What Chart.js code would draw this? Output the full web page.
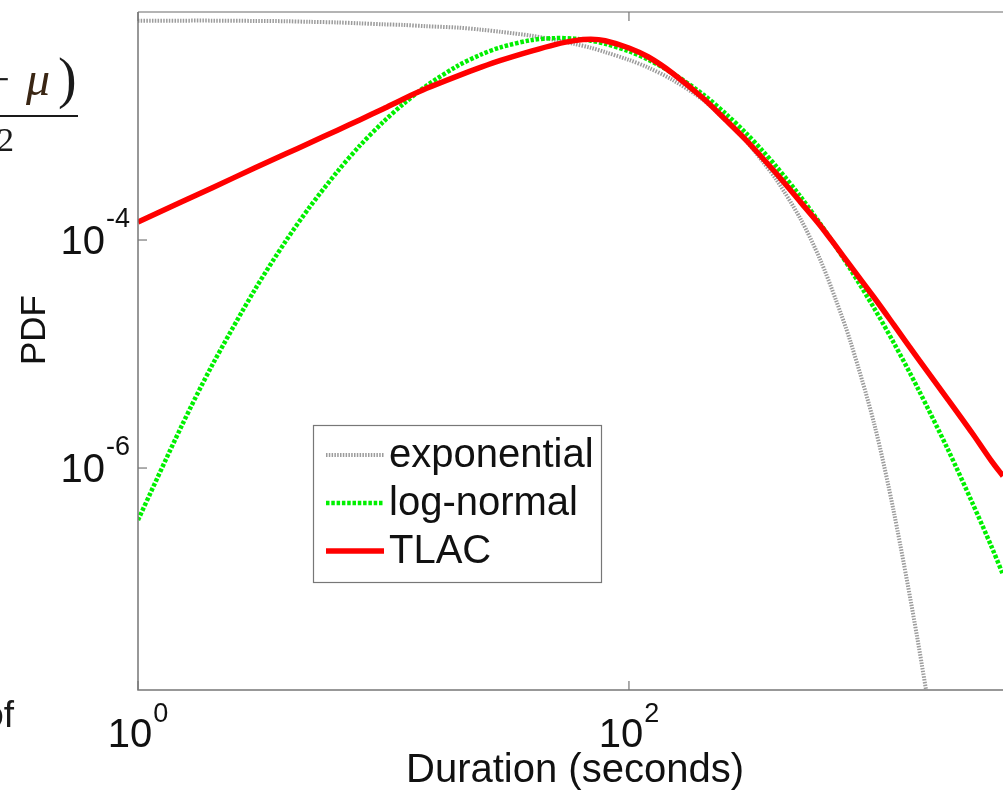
<!DOCTYPE html>
<html>
<head>
<meta charset="utf-8">
<script src="https://cdn.jsdelivr.net/npm/chart.js@4"></script>
<style>
    html, body { margin: 0; padding: 0; background: #fff; overflow: hidden; }
    #wrap { position: relative; width: 1003px; height: 793px; }
</style>
</head>
<body>
<div id="wrap"><canvas id="pdfChart" width="1003" height="793"></canvas></div>
<script>
const durations = [1, 1.5, 2, 3, 4, 5, 6.5, 8, 10, 12,
    15, 20, 25, 30, 40, 50, 60, 70, 80, 100,
    120, 150, 200, 250, 300, 350, 400, 500, 600, 700,
    800, 1000, 1200, 1500, 2000, 2500, 3000, 3340];

const expPdf = [8.4e-3, 8.4e-3, 8.4e-3, 8.35e-3, 8.3e-3, 8.2e-3, 8.1e-3, 7.95e-3, 7.8e-3, 7.7e-3,
    7.5e-3, 7.3e-3, 7.0e-3, 6.7e-3, 6.2e-3, 5.7e-3, 5.25e-3, 4.85e-3, 4.45e-3, 3.8e-3,
    3.25e-3, 2.55e-3, 1.7e-3, 1.1e-3, 7.4e-4, 4.9e-4, 3.35e-4, 1.53e-4, 6.8e-5, 2.9e-5,
    1.27e-5, 2.4e-6, 4.1e-7, 3.1e-8, 7e-10, null, null, null];

const logNormalPdf = [3.5e-7, 2.3e-6, 7.9e-6, 3.7e-5, 9.8e-5, 1.94e-4, 4.0e-4, 6.7e-4, 1.09e-3, 1.55e-3,
    2.26e-3, 3.36e-3, 4.24e-3, 4.9e-3, 5.67e-3, 5.9e-3, 5.84e-3, 5.6e-3, 5.26e-3, 4.52e-3,
    3.81e-3, 2.92e-3, 1.9e-3, 1.26e-3, 8.65e-4, 6.08e-4, 4.37e-4, 2.4e-4, 1.4e-4, 8.6e-5,
    5.5e-5, 2.5e-5, 1.25e-5, 5.04e-6, 1.43e-6, 5.0e-7, 2.04e-7, 1.16e-7];

const tlacPdf = [1.44e-4, 2.15e-4, 2.86e-4, 4.3e-4, 5.7e-4, 7.1e-4, 9.2e-4, 1.13e-3, 1.42e-3, 1.72e-3,
    2.14e-3, 2.74e-3, 3.28e-3, 3.76e-3, 4.54e-3, 5.18e-3, 5.61e-3, 5.76e-3, 5.6e-3, 4.83e-3,
    4.03e-3, 2.92e-3, 1.76e-3, 1.11e-3, 7.53e-4, 5.24e-4, 3.79e-4, 2.15e-4, 1.35e-4, 8.7e-5,
    5.9e-5, 3.1e-5, 1.8e-5, 9.2e-6, 3.95e-6, 2.03e-6, 1.15e-6, 8.5e-7];

const seriesLabels = ['exponential', 'log-normal', 'TLAC'];

// tick values and their exponents (labels drawn as 10^n)
const xTicks = [1, 100];
const xTickExp = ['0', '2'];
const yTicks = [1e-4, 1e-6];
const yTickExp = ['-4', '-6'];

const FONT = '"Liberation Sans", Arial, sans-serif';

const toPoints = (vals) => durations.map((d, i) => ({ x: d, y: vals[i] }));

function drawPow(ctx, left, baseline, expBaseline, exp) {
    ctx.font = `40px ${FONT}`;
    ctx.fillText('10', left, baseline);
    const w = ctx.measureText('10').width;
    ctx.font = `27px ${FONT}`;
    ctx.fillText(exp, left + w + 1, expBaseline);
}

function powWidth(ctx, exp) {
    ctx.font = `40px ${FONT}`;
    const w1 = ctx.measureText('10').width;
    ctx.font = `27px ${FONT}`;
    return w1 + 1 + ctx.measureText(exp).width;
}

const axesFrame = {
    id: 'axesFrame',
    afterDatasetsDraw(chart) {
        const { ctx, chartArea: a, scales: { x, y } } = chart;
        ctx.save();

        // axes box (right side is cut off in the figure)
        ctx.strokeStyle = '#b4b4b4';
        ctx.lineWidth = 2;
        ctx.beginPath();
        ctx.moveTo(a.left, a.top);
        ctx.lineTo(a.right, a.top);
        ctx.stroke();
        ctx.strokeStyle = '#777';
        ctx.lineWidth = 1.5;
        ctx.beginPath();
        ctx.moveTo(a.left, a.top);
        ctx.lineTo(a.left, a.bottom);
        ctx.lineTo(a.right, a.bottom);
        ctx.stroke();

        // inward ticks
        ctx.lineWidth = 1.2;
        xTicks.forEach(v => {
            const px = x.getPixelForValue(v);
            ctx.beginPath();
            ctx.moveTo(px, a.bottom); ctx.lineTo(px, a.bottom - 9);
            ctx.moveTo(px, a.top); ctx.lineTo(px, a.top + 9);
            ctx.stroke();
        });
        yTicks.forEach(v => {
            const py = y.getPixelForValue(v);
            ctx.beginPath();
            ctx.moveTo(a.left, py); ctx.lineTo(a.left + 9, py);
            ctx.stroke();
        });

        // tick labels
        ctx.fillStyle = '#111';
        ctx.textAlign = 'left';
        ctx.textBaseline = 'alphabetic';
        xTicks.forEach((v, i) => {
            const px = x.getPixelForValue(v);
            const w = powWidth(ctx, xTickExp[i]);
            drawPow(ctx, px - w / 2, 747, 722, xTickExp[i]);
        });
        yTicks.forEach((v, i) => {
            const py = y.getPixelForValue(v);
            const w = powWidth(ctx, yTickExp[i]);
            drawPow(ctx, 130 - w, py + 14, py - 13, yTickExp[i]);
        });

        // axis titles
        ctx.font = `40px ${FONT}`;
        ctx.textAlign = 'center';
        ctx.fillText('Duration (seconds)', 575, 782);
        ctx.save();
        ctx.translate(35, 330);
        ctx.rotate(-Math.PI / 2);
        ctx.textBaseline = 'middle';
        ctx.font = `35px ${FONT}`;
        ctx.fillText('PDF', 0, 0);
        ctx.restore();

        ctx.restore();
    },
    afterDraw(chart) {
        const { ctx } = chart;
        ctx.save();

        // legend box
        ctx.fillStyle = '#fff';
        ctx.fillRect(313, 425, 289, 158);
        ctx.strokeStyle = '#777';
        ctx.lineWidth = 1.2;
        ctx.strokeRect(313.5, 425.5, 288, 157);
        const rows = [455, 503, 551];
        chart.data.datasets.forEach((ds, i) => {
            const yy = rows[i];
            ctx.strokeStyle = ds.borderColor;
            ctx.lineWidth = ds.borderWidth;
            ctx.setLineDash(ds.borderDash || []);
            ctx.beginPath();
            ctx.moveTo(326, yy);
            ctx.lineTo(384, yy);
            ctx.stroke();
            ctx.setLineDash([]);
            ctx.fillStyle = '#111';
            ctx.font = `40px ${FONT}`;
            ctx.textAlign = 'left';
            ctx.textBaseline = 'middle';
            ctx.fillText(ds.label, 389, yy + 1);
        });

        // pieces of the surrounding page that show in the crop
        ctx.fillStyle = '#1a1a1a';
        ctx.textBaseline = 'alphabetic';
        ctx.font = '44px "Liberation Serif", "DejaVu Serif", serif';
        ctx.textAlign = 'right';
        ctx.fillText('\u2212', 10, 94);
        ctx.fillStyle = '#3a2614';
        ctx.font = 'italic 48px "Liberation Serif", "DejaVu Serif", serif';
        ctx.textAlign = 'left';
        ctx.fillText('\u03bc', 26, 95);
        ctx.fillStyle = '#1a1a1a';
        ctx.font = '56px "Liberation Serif", "DejaVu Serif", serif';
        ctx.fillText(')', 58, 97);
        ctx.fillRect(0, 115, 78, 2);
        ctx.font = '34px "Liberation Serif", "DejaVu Serif", serif';
        ctx.textAlign = 'right';
        ctx.fillText('2', 14, 151);
        ctx.font = `37px ${FONT}`;
        ctx.fillText('of', 14, 727);

        ctx.restore();
    }
};

const ctxPdf = document.getElementById('pdfChart');
const pdfChart = new Chart(ctxPdf, {
    type: 'line',
    data: {
        datasets: [
            {
                label: seriesLabels[0],
                data: toPoints(expPdf),
                borderColor: '#9c9c9c',
                borderWidth: 4,
                borderDash: [1.5, 1.3],
                pointRadius: 0,
                tension: 0.3,
                order: 3
            },
            {
                label: seriesLabels[1],
                data: toPoints(logNormalPdf),
                borderColor: '#00f000',
                borderWidth: 4.5,
                borderDash: [3.5, 1.8],
                pointRadius: 0,
                tension: 0.3,
                order: 2
            },
            {
                label: seriesLabels[2],
                data: toPoints(tlacPdf),
                borderColor: '#ff0000',
                borderWidth: 5.5,
                pointRadius: 0,
                tension: 0.3,
                order: 1
            }
        ]
    },
    options: {
        responsive: false,
        animation: false,
        devicePixelRatio: 1,
        layout: { padding: { left: 138, right: 0, top: 12, bottom: 103 } },
        plugins: {
            legend: { display: false },
            tooltip: { enabled: false }
        },
        scales: {
            x: { type: 'logarithmic', min: 1, max: 3340, display: false },
            y: { type: 'logarithmic', min: 1.13e-8, max: 1e-2, display: false }
        }
    },
    plugins: [axesFrame]
});
</script>
</body>
</html>
